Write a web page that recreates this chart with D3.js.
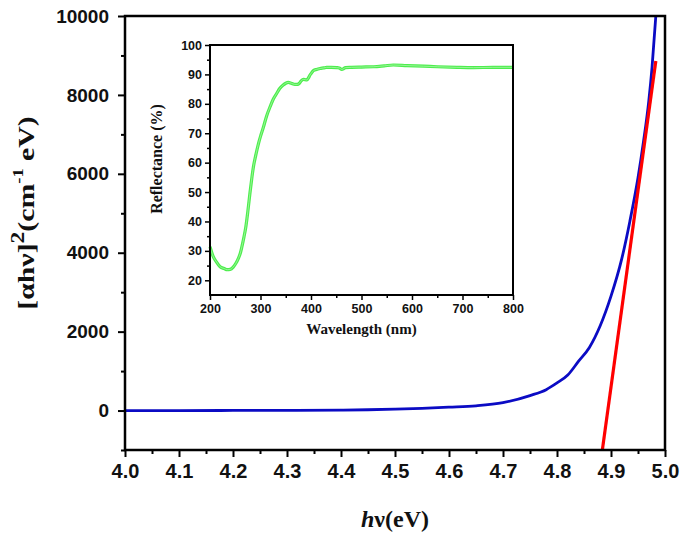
<!DOCTYPE html>
<html><head><meta charset="utf-8">
<script src="https://cdn.jsdelivr.net/npm/d3@7"></script>
<style>body{margin:0;background:#fff}svg{display:block}</style>
</head><body>
<svg id="c" width="685" height="535"></svg>
<script>
// ---- main plot data: Tauc plot ----
const photonEnergy = [4.00, 4.10, 4.20, 4.30, 4.40, 4.45, 4.50, 4.55, 4.60, 4.65, 4.70, 4.75, 4.78, 4.80, 4.82, 4.84, 4.86, 4.88, 4.90, 4.92, 4.935, 4.95, 4.96, 4.97, 4.976, 4.983];
const alphaHvSq    = [0, 0, 2, 5, 12, 20, 35, 55, 85, 120, 200, 380, 530, 700, 900, 1250, 1600, 2150, 2900, 3850, 4800, 5900, 6800, 7850, 8700, 10000];
const fitLineX = [4.884, 4.983];
const fitLineY = [-1000, 8860];
const mainXTicks = [4.0, 4.1, 4.2, 4.3, 4.4, 4.5, 4.6, 4.7, 4.8, 4.9, 5.0];
const mainXMinor = [4.05, 4.15, 4.25, 4.35, 4.45, 4.55, 4.65, 4.75, 4.85, 4.95];
const mainYTicks = [0, 2000, 4000, 6000, 8000, 10000];
const mainYMinor = [-1000, 1000, 3000, 5000, 7000, 9000];

// ---- inset data: reflectance spectrum ----
const wavelength  = [200, 206, 213, 220, 228, 234, 240, 246, 251, 256, 260, 263, 267, 271, 275, 279, 283, 286, 291, 296, 301, 306, 312, 319, 326, 332, 338, 345, 350, 355, 361, 368, 373, 377, 381, 385, 389, 392, 395, 398, 402, 405, 411, 418, 425, 431, 440, 451, 456, 461, 465, 468, 480, 500, 524, 545, 563, 590, 623, 650, 689, 722, 760, 800];
const reflectance = [31.4, 28.2, 26.2, 24.6, 24.0, 23.6, 23.7, 24.5, 25.7, 27.4, 29.2, 31.3, 34.5, 38.2, 43.5, 49.5, 55.0, 58.6, 62.8, 66.5, 69.5, 72.2, 75.8, 79.0, 81.8, 83.5, 85.2, 86.4, 87.0, 87.3, 87.0, 86.6, 86.6, 87.0, 87.9, 88.3, 88.2, 88.1, 88.8, 89.8, 90.7, 91.3, 91.7, 92.0, 92.2, 92.4, 92.4, 92.3, 92.2, 91.7, 92.0, 92.3, 92.4, 92.5, 92.6, 92.9, 93.2, 93.0, 92.8, 92.6, 92.4, 92.3, 92.4, 92.4];
const insetXTicks = [200, 300, 400, 500, 600, 700, 800];
const insetXMinor = [250, 350, 450, 550, 650, 750];
const insetYTicks = [20, 30, 40, 50, 60, 70, 80, 90, 100];
const insetYMinor = [25, 35, 45, 55, 65, 75, 85, 95];

const svg = d3.select("#c");
const sans = "'Liberation Sans', Arial, sans-serif";
const serif = "'Liberation Serif', 'Times New Roman', serif";

// ---------- main ----------
const M = {l:125, r:665, t:16, b:450};
const x = d3.scaleLinear().domain([4.0, 5.0]).range([M.l, M.r]);
const y = d3.scaleLinear().domain([-1000, 10000]).range([M.b, M.t]);

function styleAxis(g, fs, sw){
  g.select(".domain").remove();
  g.selectAll(".tick line").attr("stroke","#000").attr("stroke-width",sw);
  g.selectAll(".tick text").attr("font-family",sans).attr("font-weight","bold").attr("font-size",fs).attr("fill","#111");
}

const gx = svg.append("g").attr("transform",`translate(0,${M.b})`)
  .call(d3.axisBottom(x).tickValues(mainXTicks).tickFormat(d3.format(".1f")).tickSize(7).tickPadding(7));
styleAxis(gx, 20, 2);
const gxm = svg.append("g").attr("transform",`translate(0,${M.b})`)
  .call(d3.axisBottom(x).tickValues(mainXMinor).tickFormat("").tickSize(4));
styleAxis(gxm, 20, 2);

const gy = svg.append("g").attr("transform",`translate(${M.l},0)`)
  .call(d3.axisLeft(y).tickValues(mainYTicks).tickFormat(d3.format("d")).tickSize(7).tickPadding(9));
styleAxis(gy, 19, 2);
const gym = svg.append("g").attr("transform",`translate(${M.l},0)`)
  .call(d3.axisLeft(y).tickValues(mainYMinor).tickFormat("").tickSize(4));
styleAxis(gym, 19, 2);

svg.append("defs").append("clipPath").attr("id","clipMain")
  .append("rect").attr("x",M.l).attr("y",M.t).attr("width",M.r-M.l).attr("height",M.b-M.t);

const mainData = photonEnergy.map((e,i)=>({x:e, y:alphaHvSq[i]}));
svg.append("path").datum(mainData)
  .attr("clip-path","url(#clipMain)")
  .attr("fill","none").attr("stroke","#0b0bc4").attr("stroke-width",2.8)
  .attr("stroke-linejoin","round")
  .attr("d", d3.line().x(d=>x(d.x)).y(d=>y(d.y)).curve(d3.curveMonotoneX));

const fitData = fitLineX.map((e,i)=>({x:e, y:fitLineY[i]}));
svg.append("path").datum(fitData)
  .attr("clip-path","url(#clipMain)")
  .attr("fill","none").attr("stroke","#ff0000").attr("stroke-width",3.2)
  .attr("d", d3.line().x(d=>x(d.x)).y(d=>y(d.y)));

svg.append("rect").attr("x",M.l).attr("y",M.t).attr("width",M.r-M.l).attr("height",M.b-M.t)
  .attr("fill","none").attr("stroke","#000").attr("stroke-width",2.5);

// axis titles
const xt = svg.append("text").attr("x",(M.l+M.r)/2).attr("y",527).attr("text-anchor","middle")
  .attr("font-family",serif).attr("font-weight","bold").attr("font-size",24).attr("fill","#111");
xt.append("tspan").attr("font-style","italic").text("h");
xt.append("tspan").text("ν(eV)");

const yt = svg.append("text").attr("transform","translate(34,213) rotate(-90) scale(1.24,1)").attr("text-anchor","middle")
  .attr("font-family",serif).attr("font-weight","bold").attr("font-size",24).attr("fill","#111");
yt.append("tspan").text("[αhν]");
yt.append("tspan").attr("font-size",19).attr("dy",-10).text("2");
yt.append("tspan").attr("dy",10).text("(cm");
yt.append("tspan").attr("font-size",15).attr("dy",-11).text("-1");
yt.append("tspan").attr("dy",11).text(" eV)");

// ---------- inset ----------
const I = {l:210, r:513, t:45, b:295};
const ix = d3.scaleLinear().domain([200, 800]).range([I.l, I.r]);
const iy = d3.scaleLinear().domain([15, 100]).range([I.b, I.t]);

const igx = svg.append("g").attr("transform",`translate(0,${I.b})`)
  .call(d3.axisBottom(ix).tickValues(insetXTicks).tickFormat(d3.format("d")).tickSize(5).tickPadding(4));
styleAxis(igx, 12.5, 1.5);
const igxm = svg.append("g").attr("transform",`translate(0,${I.b})`)
  .call(d3.axisBottom(ix).tickValues(insetXMinor).tickFormat("").tickSize(3));
styleAxis(igxm, 12.5, 1.5);
const igy = svg.append("g").attr("transform",`translate(${I.l},0)`)
  .call(d3.axisLeft(iy).tickValues(insetYTicks).tickFormat(d3.format("d")).tickSize(5).tickPadding(3));
styleAxis(igy, 12.5, 1.5);
const igym = svg.append("g").attr("transform",`translate(${I.l},0)`)
  .call(d3.axisLeft(iy).tickValues(insetYMinor).tickFormat("").tickSize(3));
styleAxis(igym, 12.5, 1.5);

const insetData = wavelength.map((w,i)=>({x:w, y:reflectance[i]}));
svg.append("path").datum(insetData)
  .attr("fill","none").attr("stroke","#4ded4d").attr("stroke-width",3.2)
  .attr("stroke-linejoin","round")
  .attr("d", d3.line().x(d=>ix(d.x)).y(d=>iy(d.y)).curve(d3.curveMonotoneX));
svg.append("path").datum(insetData)
  .attr("fill","none").attr("stroke","#a8f7a8").attr("stroke-width",0.8)
  .attr("d", d3.line().x(d=>ix(d.x)).y(d=>iy(d.y)).curve(d3.curveMonotoneX));

svg.append("rect").attr("x",I.l).attr("y",I.t).attr("width",I.r-I.l).attr("height",I.b-I.t)
  .attr("fill","none").attr("stroke","#000").attr("stroke-width",2);

svg.append("text").attr("x",(I.l+I.r)/2).attr("y",334).attr("text-anchor","middle")
  .attr("font-family",serif).attr("font-weight","bold").attr("font-size",15).attr("fill","#111")
  .text("Wavelength (nm)");
svg.append("text").attr("transform","translate(162,159) rotate(-90)").attr("text-anchor","middle")
  .attr("font-family",serif).attr("font-weight","bold").attr("font-size",16).attr("fill","#111")
  .text("Reflectance (%)");
</script>
</body></html>
